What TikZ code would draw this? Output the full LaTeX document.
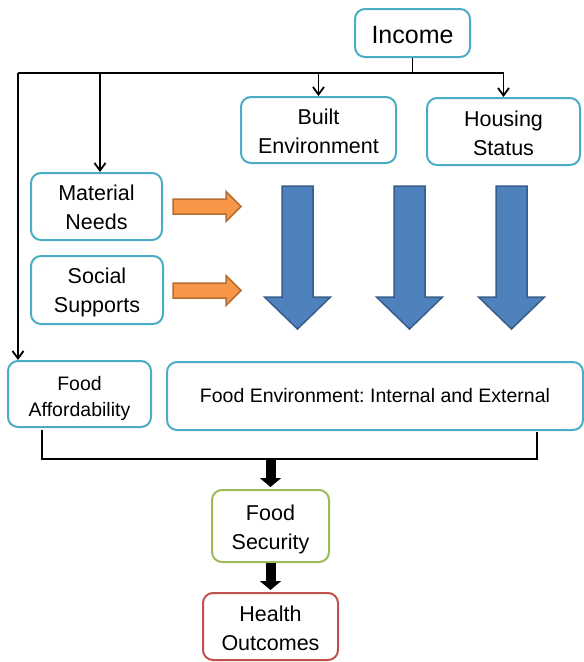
\documentclass[tikz,border=0pt]{standalone}
\usepackage{fontspec}
\setmainfont{Liberation Sans}
\usetikzlibrary{arrows.meta,calc}
\frenchspacing
\definecolor{boxblue}{HTML}{4BACC6}
\definecolor{boxgreen}{HTML}{9BBB59}
\definecolor{boxred}{HTML}{C0504D}
\definecolor{orfill}{HTML}{F79646}
\definecolor{ordraw}{HTML}{B66D31}
\definecolor{blfill}{HTML}{4F81BD}
\definecolor{bldraw}{HTML}{385D8A}
% stacked label lines, drawn a little lower than the box centre
\newcommand{\stacklines}[2][3.5pt]{\raisebox{-#1}[\height][\depth]{%
  \begin{tabular}{@{}c@{}}#2\end{tabular}}}
\tikzset{
  box/.style={draw=boxblue, line width=2pt, rounded corners=10pt, fill=white,
    inner sep=0pt, font=\fontsize{21.5}{29}\selectfont},
  smallbox/.style={box, font=\fontsize{19.5}{26}\selectfont},
  link/.style={line width=1.8pt, draw=black},
  tiplink/.style={link, -{Straight Barb[length=7.5pt,width=11pt,line width=1.8pt]}},
  fat/.style={draw=black, line width=10pt, -{Triangle[length=9pt,width=21pt]}},
  blockor/.style={fill=orfill, draw=ordraw, line width=1.5pt},
  blockbl/.style={fill=blfill, draw=bldraw, line width=1.5pt},
  downblock/.pic={\draw[blockbl] (-15.5,0) -- (15.5,0) -- (15.5,111) -- (33,111)
      -- (0,143) -- (-33,111) -- (-15.5,111) -- cycle;},
  rightblock/.pic={\draw[blockor] (0,-7.5) -- (53,-7.5) -- (53,-15) -- (68,0)
      -- (53,15) -- (53,7.5) -- (0,7.5) -- cycle;}
}
\begin{document}
\begin{tikzpicture}[x=1pt,y=-1pt]
\useasboundingbox (0,0) rectangle (584,662);

% boxes
\node[box, minimum width=115pt, minimum height=48pt, font=\fontsize{25}{30}\selectfont]
  (inc) at (412.5,33) {\raisebox{-2pt}[\height][\depth]{Income}};
\node[box, minimum width=155pt, minimum height=66pt] (be) at (318.5,130)
  {\stacklines{Built\\Environment}};
\node[box, minimum width=153pt, minimum height=67pt] (hs) at (503.5,131.5)
  {\stacklines[4pt]{Housing\\Status}};
\node[box, minimum width=131pt, minimum height=67pt] (mn) at (96.5,206.5)
  {\stacklines[2.5pt]{Material\\Needs}};
\node[box, minimum width=132pt, minimum height=68pt] (ss) at (97,290)
  {\stacklines[2.5pt]{Social\\Supports}};
\node[smallbox, minimum width=143pt, minimum height=66pt] (fa) at (79.5,394)
  {\stacklines[3.8pt]{Food\\Affordability}};
\node[smallbox, minimum width=416pt, minimum height=68pt] (fe) at (375,396)
  {Food Environment: Internal and External};
\node[box, draw=boxgreen, minimum width=117pt, minimum height=72pt] (fs) at (270.5,526)
  {\stacklines[3pt]{Food\\Security}};
\node[box, draw=boxred, minimum width=135pt, minimum height=67pt] (ho) at (270.5,626.5)
  {\stacklines[4pt]{Health\\Outcomes}};

% income distribution bus
\coordinate (busL) at (18,73);
\coordinate (busM) at (100,73);
\coordinate (busR) at (503.5,73);
\draw[link] (inc.south) -- (inc.south |- busL);
\draw[link] (busL) -- (busR);
\draw[tiplink] (busL) -- (busL |- fa.north);
\draw[tiplink] (busM) -- (busM |- mn.north);
\draw[tiplink] (be.north |- busL) -- (be.north);
\draw[tiplink] (busR) -- (hs.north);

% block arrows
\pic at (173,206.5) {rightblock};
\pic at (173,290.5) {rightblock};
\pic at (297.5,186) {downblock};
\pic at (409.5,186) {downblock};
\pic at (511.5,186) {downblock};

% bracket joining the two food boxes
\coordinate (brL) at (42,459);
\coordinate (brR) at (537,459);
\coordinate (brM) at (270.5,459);
\draw[link] ($(brL |- fa.south)+(0,2)$) -- (brL) -- (brR) -- ($(brR |- fe.south)+(0,1)$);

% thick flow arrows
\draw[fat, shorten >=2pt] (brM) -- (fs.north);
\draw[fat, shorten >=2pt] (fs.south) -- (ho.north);
\end{tikzpicture}
\end{document}
